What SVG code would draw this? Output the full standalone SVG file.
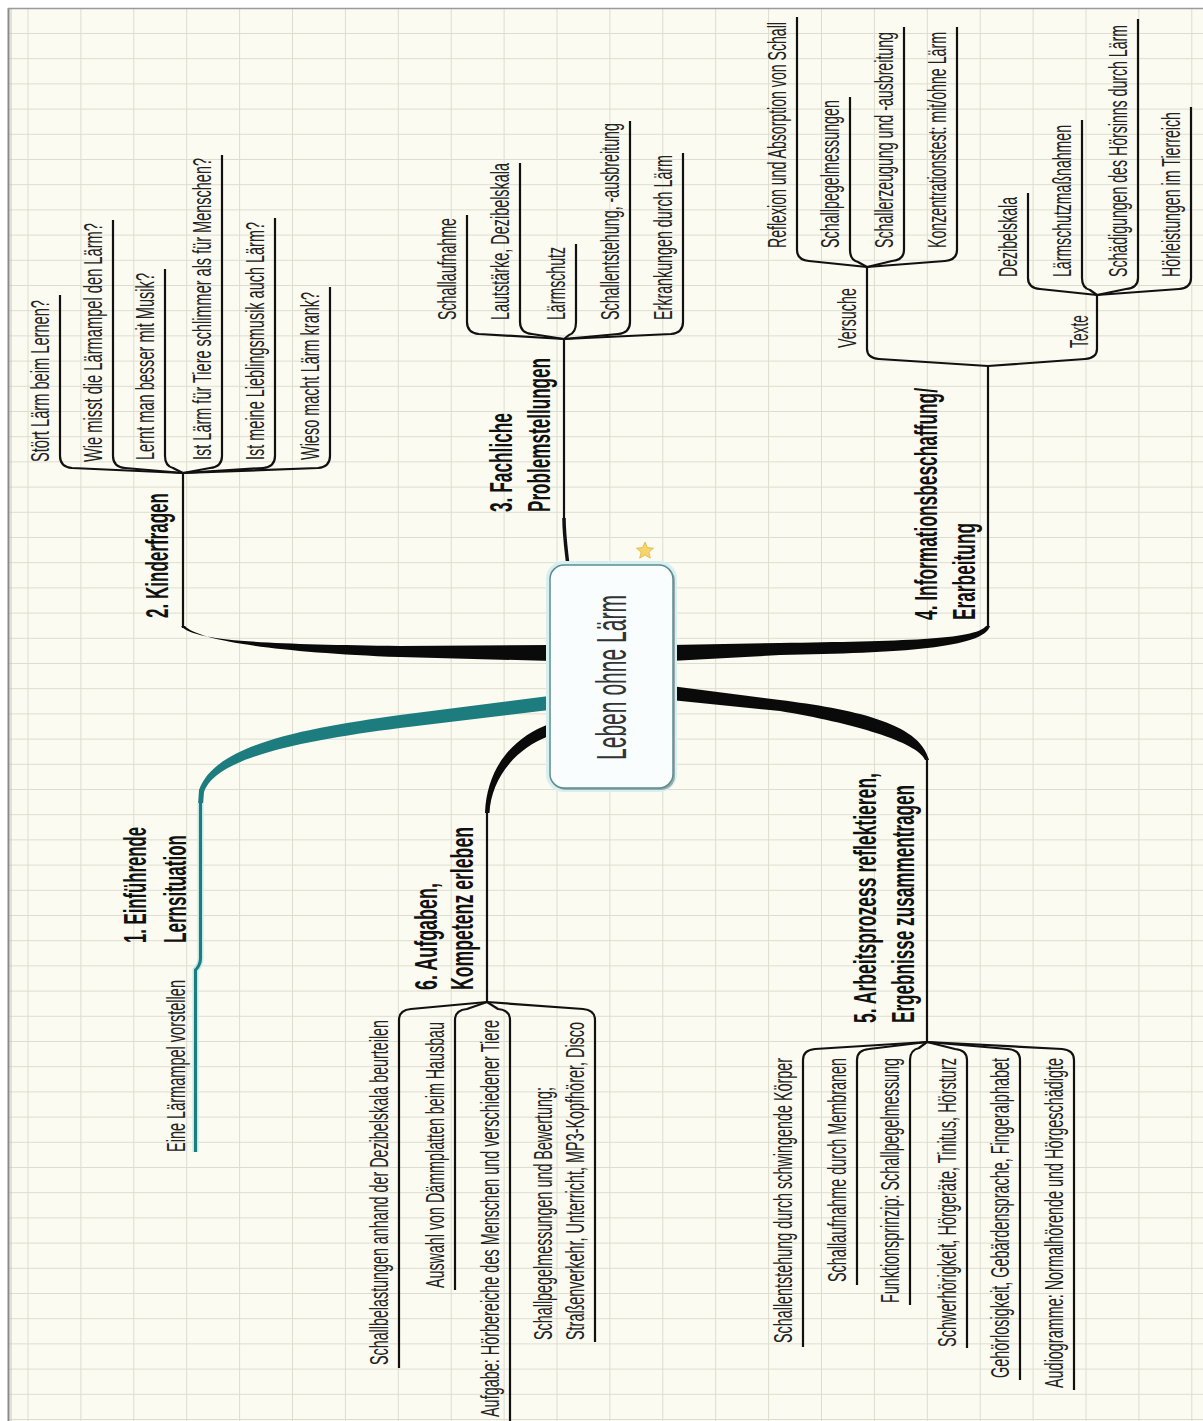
<svg xmlns="http://www.w3.org/2000/svg" width="1203" height="1421" viewBox="0 0 1203 1421">
<defs>
<pattern id="grid" patternUnits="userSpaceOnUse" x="27.5" y="33" width="52.9" height="25.2">
<path d="M0.5,0 V25.2 M0,0.5 H52.9" stroke="#dcdccf" stroke-width="1" fill="none"/>
</pattern>
<style>
text{font-family:"Liberation Sans",Arial,sans-serif}
.t{font-size:26px;fill:#222}
.b{font-size:32px;font-weight:bold;fill:#111}
.c{font-size:42px;fill:#333}
.f{fill:none;stroke:#111;stroke-width:2.2;stroke-linejoin:round}
.k{fill:#0a0a0a}
</style>
</defs>
<rect x="0" y="0" width="1203" height="1421" fill="#ffffff"/>
<rect x="8" y="8" width="1195" height="1413" fill="#fbfbf1"/>
<rect x="8" y="8" width="1195" height="1413" fill="url(#grid)"/>
<line x1="8.5" y1="8" x2="8.5" y2="1421" stroke="#8a8a8a" stroke-width="2"/>
<line x1="11" y1="8" x2="11" y2="1421" stroke="#c8c8c0" stroke-width="1"/>
<line x1="8" y1="8.5" x2="1203" y2="8.5" stroke="#9a9a9a" stroke-width="1.5"/>

<g id="connectors">
<path d="M549,696 L400,715 C300,729 215,745 199,790 L198,805 L203,805 L204,792 C215,758 300,741 400,728 L549,710 Z" fill="#1d7d7e"/>
<path d="M200.5,803 V958 Q200.5,965 195.5,970 V1152" fill="none" stroke="#c4e8e8" stroke-width="6"/>
<path d="M200.5,803 V958 Q200.5,965 195.5,970 V1152" fill="none" stroke="#1d7d7e" stroke-width="3"/>
<path class="k" d="M552,645 L400,646 C270,644 195,642 181,626 L185,626 C198,640 270,652 400,657 L552,661 Z"/>
<path class="f" d="M183,628 V472"/>
<path fill="none" stroke="#111" stroke-width="3.5" d="M568,566 C566,548 564,535 564,518"/>
<path class="f" d="M564,520 V338"/>
<path class="k" d="M671,645 L780,643 C900,641 975,640 986,626 L990,626 C984,648 900,653 780,655 L671,661 Z"/>
<path class="f" d="M988,628 V366"/>
<path class="k" d="M671,686 L780,700 C850,709 920,722 929,760 L925,760 C918,742 852,723 780,711 L671,700 Z"/>
<path class="f" d="M927,758 V1042"/>
<path class="k" d="M549,724 C515,737 487,765 485,813 L489.5,813 C491,780 514,749 549,736 Z"/>
<path class="f" d="M487,811 V1002"/>

<path class="f" d="M60,295 V456 Q60,467 72,468 L183,473"/>
<path class="f" d="M113,220 V456 Q113,467 125,468 L183,473"/>
<path class="f" d="M165,269 V456 Q165,466 173,468 L183,473"/>
<path class="f" d="M222,155 V456 Q222,467 210,468 L183,473"/>
<path class="f" d="M275,218 V456 Q275,467 263,468 L183,473"/>
<path class="f" d="M330,287 V456 Q330,467 318,468 L183,473"/>
<path class="f" d="M467,215 V322 Q467,333 479,334 L564,339"/>
<path class="f" d="M520,163 V322 Q520,333 532,334 L564,339"/>
<path class="f" d="M576,244 V322 Q576,333 569,335 L564,339"/>
<path class="f" d="M630,121 V322 Q630,333 618,334 L564,339"/>
<path class="f" d="M683,153 V322 Q683,333 671,334 L564,339"/>
<path class="f" d="M867,267 V349 Q867,358 879,359 L988,366"/>
<path class="f" d="M1097,295 V349 Q1097,358 1085,359 L988,366"/>
<path class="f" d="M797,17 V250 Q797,260 809,261 L867,267"/>
<path class="f" d="M850,97 V250 Q850,260 858,262 L867,267"/>
<path class="f" d="M904,27 V250 Q904,260 892,261 L867,267"/>
<path class="f" d="M957,27 V250 Q957,260 945,261 L867,267"/>
<path class="f" d="M1028,193 V278 Q1028,288 1040,289 L1097,295"/>
<path class="f" d="M1082,120 V278 Q1082,288 1090,290 L1097,295"/>
<path class="f" d="M1138,19 V278 Q1138,288 1126,289 L1097,295"/>
<path class="f" d="M1191,107 V278 Q1191,288 1179,289 L1097,295"/>
<path class="f" d="M803,1347 V1060 Q803,1050 815,1049 L927,1042"/>
<path class="f" d="M857,1285 V1060 Q857,1050 869,1049 L927,1042"/>
<path class="f" d="M910,1305 V1060 Q910,1050 919,1048 L927,1042"/>
<path class="f" d="M967,1348 V1060 Q967,1050 955,1049 L927,1042"/>
<path class="f" d="M1020,1380 V1060 Q1020,1050 1008,1049 L927,1042"/>
<path class="f" d="M1074,1390 V1060 Q1074,1050 1062,1049 L927,1042"/>
<path class="f" d="M399,1368 V1020 Q399,1010 411,1009 L487,1002"/>
<path class="f" d="M455,1290 V1020 Q455,1010 467,1009 L487,1002"/>
<path class="f" d="M510,1421 V1020 Q510,1010 498,1009 L487,1002"/>
<path class="f" d="M595,1342 V1020 Q595,1010 583,1009 L487,1002"/>
</g>

<g id="node-center">
<rect x="548" y="563" width="127" height="227" rx="16" fill="none" stroke="#d6f0f2" stroke-width="4"/>
<rect x="552" y="567" width="123" height="223" rx="14" fill="#9aa9a9"/>
<rect x="550" y="565" width="123" height="223" rx="14" fill="#f9fdfd" stroke="#5d8d8e" stroke-width="1.5"/>
<text class="c" transform="translate(626,760) rotate(-90) scale(0.55,1)" textLength="300" lengthAdjust="spacingAndGlyphs">Leben ohne Lärm</text>
<polygon points="645,542 647.4,547.6 653.5,548.2 648.9,552.2 650.3,558.2 645,555 639.7,558.2 641.1,552.2 636.5,548.2 642.6,547.6" fill="#f6d56a" stroke="#e2b445" stroke-width="0.8"/>
</g>

<g id="node-1">
<text class="b" transform="translate(146,943) rotate(-90) scale(0.55,1)" textLength="210.9" lengthAdjust="spacingAndGlyphs">1. Einführende</text>
<text class="b" transform="translate(186,943) rotate(-90) scale(0.55,1)" textLength="196.4" lengthAdjust="spacingAndGlyphs">Lernsituation</text>
</g>
<g id="node-1-1"><text class="t" transform="translate(185,1152) rotate(-90) scale(0.55,1)" textLength="312.7" lengthAdjust="spacingAndGlyphs">Eine Lärmampel vorstellen</text></g>

<g id="node-2"><text class="b" transform="translate(168,618) rotate(-90) scale(0.55,1)" textLength="227.3" lengthAdjust="spacingAndGlyphs">2. Kinderfragen</text></g>
<g id="node-2-1"><text class="t" transform="translate(49,462) rotate(-90) scale(0.55,1)" textLength="294.5" lengthAdjust="spacingAndGlyphs">Stört Lärm beim Lernen?</text></g>
<g id="node-2-2"><text class="t" transform="translate(102,462) rotate(-90) scale(0.55,1)" textLength="434.5" lengthAdjust="spacingAndGlyphs">Wie misst die Lärmampel den Lärm?</text></g>
<g id="node-2-3"><text class="t" transform="translate(154,460) rotate(-90) scale(0.55,1)" textLength="340" lengthAdjust="spacingAndGlyphs">Lernt man besser mit Musik?</text></g>
<g id="node-2-4"><text class="t" transform="translate(211,460) rotate(-90) scale(0.55,1)" textLength="549.1" lengthAdjust="spacingAndGlyphs">Ist Lärm für Tiere schlimmer als für Menschen?</text></g>
<g id="node-2-5"><text class="t" transform="translate(264,460) rotate(-90) scale(0.55,1)" textLength="432.7" lengthAdjust="spacingAndGlyphs">Ist meine Lieblingsmusik auch Lärm?</text></g>
<g id="node-2-6"><text class="t" transform="translate(319,460) rotate(-90) scale(0.55,1)" textLength="305.5" lengthAdjust="spacingAndGlyphs">Wieso macht Lärm krank?</text></g>

<g id="node-3">
<text class="b" transform="translate(512,512) rotate(-90) scale(0.55,1)" textLength="180" lengthAdjust="spacingAndGlyphs">3. Fachliche</text>
<text class="b" transform="translate(550,512) rotate(-90) scale(0.55,1)" textLength="280" lengthAdjust="spacingAndGlyphs">Problemstellungen</text>
</g>
<g id="node-3-1"><text class="t" transform="translate(456,320) rotate(-90) scale(0.55,1)" textLength="185.5" lengthAdjust="spacingAndGlyphs">Schallaufnahme</text></g>
<g id="node-3-2"><text class="t" transform="translate(509,320) rotate(-90) scale(0.55,1)" textLength="285.5" lengthAdjust="spacingAndGlyphs">Lautstärke, Dezibelskala</text></g>
<g id="node-3-3"><text class="t" transform="translate(565,320) rotate(-90) scale(0.55,1)" textLength="132.7" lengthAdjust="spacingAndGlyphs">Lärmschutz</text></g>
<g id="node-3-4"><text class="t" transform="translate(619,320) rotate(-90) scale(0.55,1)" textLength="358.2" lengthAdjust="spacingAndGlyphs">Schallentstehung, -ausbreitung</text></g>
<g id="node-3-5"><text class="t" transform="translate(672,320) rotate(-90) scale(0.55,1)" textLength="300" lengthAdjust="spacingAndGlyphs">Erkrankungen durch Lärm</text></g>

<g id="node-4">
<text class="b" transform="translate(937,620) rotate(-90) scale(0.55,1)" textLength="421.8" lengthAdjust="spacingAndGlyphs">4. Informationsbeschaffung/</text>
<text class="b" transform="translate(975,620) rotate(-90) scale(0.55,1)" textLength="176.4" lengthAdjust="spacingAndGlyphs">Erarbeitung</text>
</g>
<g id="node-4-1"><text class="t" transform="translate(856,348) rotate(-90) scale(0.55,1)" textLength="109.1" lengthAdjust="spacingAndGlyphs">Versuche</text></g>
<g id="node-4-2"><text class="t" transform="translate(1088,348) rotate(-90) scale(0.55,1)" textLength="60" lengthAdjust="spacingAndGlyphs">Texte</text></g>
<g id="node-4-1-1"><text class="t" transform="translate(786,248) rotate(-90) scale(0.55,1)" textLength="410.9" lengthAdjust="spacingAndGlyphs">Reflexion und Absorption von Schall</text></g>
<g id="node-4-1-2"><text class="t" transform="translate(839,248) rotate(-90) scale(0.55,1)" textLength="269.1" lengthAdjust="spacingAndGlyphs">Schallpegelmessungen</text></g>
<g id="node-4-1-3"><text class="t" transform="translate(893,248) rotate(-90) scale(0.55,1)" textLength="392.7" lengthAdjust="spacingAndGlyphs">Schallerzeugung und -ausbreitung</text></g>
<g id="node-4-1-4"><text class="t" transform="translate(946,248) rotate(-90) scale(0.55,1)" textLength="392.7" lengthAdjust="spacingAndGlyphs">Konzentrationstest: mit/ohne Lärm</text></g>
<g id="node-4-2-1"><text class="t" transform="translate(1017,277) rotate(-90) scale(0.55,1)" textLength="145.5" lengthAdjust="spacingAndGlyphs">Dezibelskala</text></g>
<g id="node-4-2-2"><text class="t" transform="translate(1071,277) rotate(-90) scale(0.55,1)" textLength="276.4" lengthAdjust="spacingAndGlyphs">Lärmschutzmaßnahmen</text></g>
<g id="node-4-2-3"><text class="t" transform="translate(1127,277) rotate(-90) scale(0.55,1)" textLength="458.2" lengthAdjust="spacingAndGlyphs">Schädigungen des Hörsinns durch Lärm</text></g>
<g id="node-4-2-4"><text class="t" transform="translate(1180,277) rotate(-90) scale(0.55,1)" textLength="300" lengthAdjust="spacingAndGlyphs">Hörleistungen im Tierreich</text></g>

<g id="node-5">
<text class="b" transform="translate(876,1023) rotate(-90) scale(0.55,1)" textLength="454.5" lengthAdjust="spacingAndGlyphs">5. Arbeitsprozess reflektieren,</text>
<text class="b" transform="translate(914,1023) rotate(-90) scale(0.55,1)" textLength="432.7" lengthAdjust="spacingAndGlyphs">Ergebnisse zusammentragen</text>
</g>
<g id="node-5-1"><text class="t" transform="translate(792,1343) rotate(-90) scale(0.55,1)" textLength="518.2" lengthAdjust="spacingAndGlyphs">Schallentstehung durch schwingende Körper</text></g>
<g id="node-5-2"><text class="t" transform="translate(846,1282) rotate(-90) scale(0.55,1)" textLength="407.3" lengthAdjust="spacingAndGlyphs">Schallaufnahme durch Membranen</text></g>
<g id="node-5-3"><text class="t" transform="translate(899,1303) rotate(-90) scale(0.55,1)" textLength="445.5" lengthAdjust="spacingAndGlyphs">Funktionsprinzip: Schallpegelmessung</text></g>
<g id="node-5-4"><text class="t" transform="translate(956,1347) rotate(-90) scale(0.55,1)" textLength="525.5" lengthAdjust="spacingAndGlyphs">Schwerhörigkeit, Hörgeräte, Tinitus, Hörsturz</text></g>
<g id="node-5-5"><text class="t" transform="translate(1009,1378) rotate(-90) scale(0.55,1)" textLength="581.8" lengthAdjust="spacingAndGlyphs">Gehörlosigkeit, Gebärdensprache, Fingeralphabet</text></g>
<g id="node-5-6"><text class="t" transform="translate(1063,1388) rotate(-90) scale(0.55,1)" textLength="600" lengthAdjust="spacingAndGlyphs">Audiogramme: Normalhörende und Hörgeschädigte</text></g>

<g id="node-6">
<text class="b" transform="translate(437,990) rotate(-90) scale(0.55,1)" textLength="194.5" lengthAdjust="spacingAndGlyphs">6. Aufgaben,</text>
<text class="b" transform="translate(473,990) rotate(-90) scale(0.55,1)" textLength="296.4" lengthAdjust="spacingAndGlyphs">Kompetenz erleben</text>
</g>
<g id="node-6-1"><text class="t" transform="translate(388,1365) rotate(-90) scale(0.55,1)" textLength="627.3" lengthAdjust="spacingAndGlyphs">Schallbelastungen anhand der Dezibelskala beurteilen</text></g>
<g id="node-6-2"><text class="t" transform="translate(444,1288) rotate(-90) scale(0.55,1)" textLength="483.6" lengthAdjust="spacingAndGlyphs">Auswahl von Dämmplatten beim Hausbau</text></g>
<g id="node-6-3"><text class="t" transform="translate(499,1417) rotate(-90) scale(0.55,1)" textLength="721.8" lengthAdjust="spacingAndGlyphs">Aufgabe: Hörbereiche des Menschen und verschiedener Tiere</text></g>
<g id="node-6-4">
<text class="t" transform="translate(552,1340) rotate(-90) scale(0.55,1)" textLength="460" lengthAdjust="spacingAndGlyphs">Schallpegelmessungen und Bewertung;</text>
<text class="t" transform="translate(584,1340) rotate(-90) scale(0.55,1)" textLength="578.2" lengthAdjust="spacingAndGlyphs">Straßenverkehr, Unterricht, MP3-Kopfhörer, Disco</text>
</g>
</svg>
